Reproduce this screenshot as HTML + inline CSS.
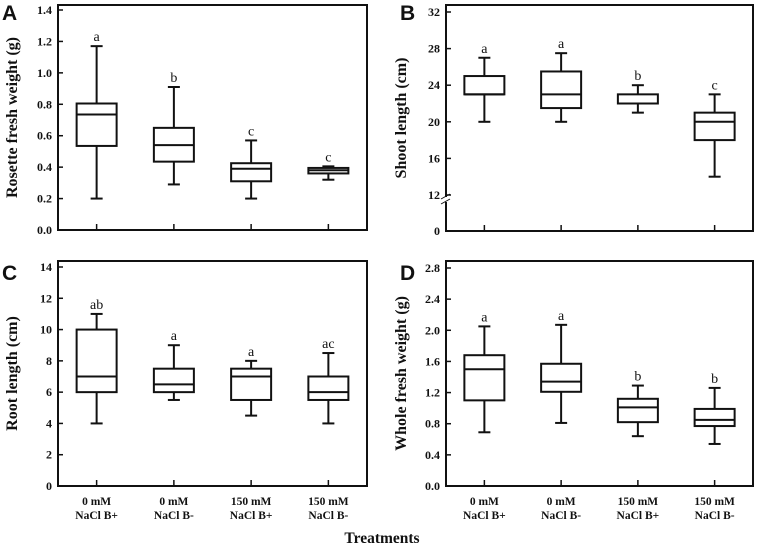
<!DOCTYPE html>
<html><head><meta charset="utf-8"><style>
body{margin:0;background:#fff;}
svg text{font-family:"Liberation Serif",serif;font-weight:bold;fill:#111;}
</style></head><body>
<svg id="c" width="765" height="548" viewBox="0 0 765 548" xmlns="http://www.w3.org/2000/svg"></svg>
<script>
const categories = ["0 mM|NaCl B+","0 mM|NaCl B-","150 mM|NaCl B+","150 mM|NaCl B-"];
const aMin=[0.2,0.29,0.2,0.32], aQ1=[0.535,0.435,0.31,0.36], aMed=[0.735,0.54,0.39,0.38], aQ3=[0.805,0.65,0.425,0.395], aMax=[1.17,0.91,0.57,0.405], aLet=["a","b","c","c"];
const bMin=[20,20,21,14], bQ1=[23,21.5,22,18], bMed=[23,23,22,20], bQ3=[25,25.5,23,21], bMax=[27,27.5,24,23], bLet=["a","a","b","c"];
const cMin=[4,5.5,4.5,4], cQ1=[6,6,5.5,5.5], cMed=[7,6.5,7,6], cQ3=[10,7.5,7.5,7], cMax=[11,9,8,8.5], cLet=["ab","a","a","ac"];
const dMin=[0.69,0.81,0.64,0.54], dQ1=[1.1,1.21,0.82,0.77], dMed=[1.5,1.34,1.01,0.85], dQ3=[1.68,1.57,1.12,0.99], dMax=[2.05,2.07,1.29,1.26], dLet=["a","a","b","b"];
const aTicks=["0.0","0.2","0.4","0.6","0.8","1.0","1.2","1.4"];
const bTicks=["0","12","16","20","24","28","32"];
const cTicks=["0","2","4","6","8","10","12","14"];
const dTicks=["0.0","0.4","0.8","1.2","1.6","2.0","2.4","2.8"];

const NS="http://www.w3.org/2000/svg", svg=document.getElementById('c');
function mk(t,a,p){const e=document.createElementNS(NS,t);for(const k in a)e.setAttribute(k,a[k]);(p||svg).appendChild(e);return e;}

function panel(o){
  const g=mk('g',{});
  
  
  const {x0,x1,yT,yB}=o;
  const fr=mk('rect',{x:x0,y:yT,width:x1-x0,height:yB-yT,fill:'none',stroke:'#111','stroke-width':2},g);
  
  
  const L=mk('text',{x:o.lx,y:o.ly,'font-size':21,style:'font-family:"Liberation Sans",sans-serif'},g);
  L.textContent=o.id;
  
  
  o.ticks.forEach(t=>{const v=parseFloat(t),y=o.sy(v);
    mk('line',{x1:x0,x2:x0+5,y1:y,y2:y,stroke:'#111','stroke-width':1.5},g);
    const tx=mk('text',{x:x0-6,y:y+4,'text-anchor':'end','font-size':12},g);tx.textContent=t;
    
    
  });
  const yt=mk('text',{transform:`translate(${o.tx},${(yT+yB)/2}) rotate(-90)`,'text-anchor':'middle','font-size':16},g);
  yt.textContent=o.title;
  
  
  const step=(x1-x0)/4;
  categories.forEach((c,i)=>{
    const cx=x0+step*(i+0.5);
    mk('line',{x1:cx,x2:cx,y1:yB,y2:yB-6,stroke:'#111','stroke-width':1.5},g);
    const bx=mk('g',{},g);
    
    
    const sy=o.sy, w=40;
    mk('line',{x1:cx,x2:cx,y1:sy(o.mx[i]),y2:sy(o.q3[i]),stroke:'#111','stroke-width':2},bx);
    mk('line',{x1:cx,x2:cx,y1:sy(o.q1[i]),y2:sy(o.mn[i]),stroke:'#111','stroke-width':2},bx);
    mk('line',{x1:cx-6,x2:cx+6,y1:sy(o.mx[i]),y2:sy(o.mx[i]),stroke:'#111','stroke-width':2},bx);
    mk('line',{x1:cx-6,x2:cx+6,y1:sy(o.mn[i]),y2:sy(o.mn[i]),stroke:'#111','stroke-width':2},bx);
    mk('rect',{x:cx-w/2,y:sy(o.q3[i]),width:w,height:sy(o.q1[i])-sy(o.q3[i]),fill:'#fff',stroke:'#111','stroke-width':2},bx);
    mk('line',{x1:cx-w/2,x2:cx+w/2,y1:sy(o.md[i]),y2:sy(o.md[i]),stroke:'#111','stroke-width':2},bx);
    const lt=mk('text',{x:cx,y:sy(o.mx[i])-5,'text-anchor':'middle','font-size':14,style:'font-weight:normal'},bx);
    lt.textContent=o.let[i];
    
    
    if(o.xl){
      c.split('|').forEach((s,k)=>{const t=mk('text',{x:cx,y:yB+19+k*14,'text-anchor':'middle','font-size':11.5},g);t.textContent=s;
        
        });
    }
  });
  if(o.brk){mk('rect',{x:x0-3,y:197,width:6,height:5,fill:'#fff'},g);
    mk('line',{x1:x0-5,x2:x0+4,y1:199,y2:194,stroke:'#111','stroke-width':1},g);
    mk('line',{x1:x0-5,x2:x0+4,y1:204,y2:199,stroke:'#111','stroke-width':1},g);}
}
const lin=(v0,y0,v1,y1)=>v=>y0+(v-v0)*(y1-y0)/(v1-v0);
panel({id:'A',x0:58,x1:367,yT:5,yB:230,lx:2,ly:20,tx:17,title:'Rosette fresh weight  (g)',ticks:aTicks,sy:lin(0,230,1.4,10),mn:aMin,q1:aQ1,md:aMed,q3:aQ3,mx:aMax,let:aLet});
const bs=v=>v<=12?231-v*36/12:195-(v-12)*36.6/4;
panel({id:'B',x0:446,x1:753,yT:5,yB:231,lx:400,ly:20,tx:406,title:'Shoot length (cm)',ticks:bTicks,sy:bs,mn:bMin,q1:bQ1,md:bMed,q3:bQ3,mx:bMax,let:bLet,brk:true});
panel({id:'C',x0:58,x1:367,yT:261,yB:486,lx:2,ly:280,tx:17,title:'Root length (cm)',ticks:cTicks,sy:lin(0,486,14,267),mn:cMin,q1:cQ1,md:cMed,q3:cQ3,mx:cMax,let:cLet,xl:true});
panel({id:'D',x0:446,x1:753,yT:261,yB:486,lx:400,ly:280,tx:406,title:'Whole fresh weight (g)',ticks:dTicks,sy:lin(0,486,2.8,268),mn:dMin,q1:dQ1,md:dMed,q3:dQ3,mx:dMax,let:dLet,xl:true});
const T=mk('text',{x:382,y:543,'text-anchor':'middle','font-size':15.5});T.textContent='Treatments';


</script>
</body></html>
